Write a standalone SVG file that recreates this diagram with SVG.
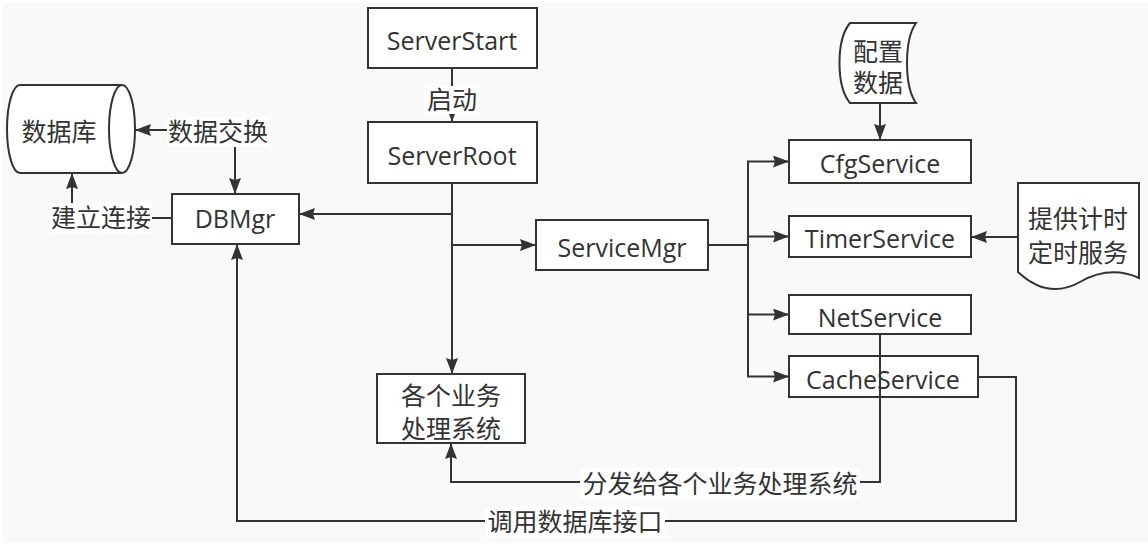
<svg xmlns="http://www.w3.org/2000/svg" width="1148" height="549" viewBox="0 0 1148 549">
<defs>
<style>
.bg{fill:#f9f9f9}
.node{fill:#ffffff;stroke:#333333;stroke-width:2}
.edge{fill:none;stroke:#333333;stroke-width:2}
.t{font-family:"Open Sans","Noto Sans CJK SC",sans-serif;font-size:25px;fill:#333333;text-anchor:middle}
.lbg{fill:#ffffff}
</style>
<marker id="arr" viewBox="0 0 16 12" refX="16" refY="6" markerWidth="16" markerHeight="12" markerUnits="userSpaceOnUse" orient="auto-start-reverse">
<path d="M0 0 L16 6 L0 12 L2 6 Z" fill="#333333"/>
</marker>
</defs>
<rect x="0" y="0" width="1148" height="549" fill="#ffffff"/>
<rect class="bg" x="3" y="3" width="1145" height="540"/>

<g id="connectors">
<path class="edge" d="M452 68 V122" marker-end="url(#arr)"/>
<path class="edge" d="M452 183 V374" marker-end="url(#arr)"/>
<path class="edge" d="M452 214 H299" marker-end="url(#arr)"/>
<path class="edge" d="M452 245 H536" marker-end="url(#arr)"/>
<path class="edge" d="M235 194 V130 H135" marker-start="url(#arr)" marker-end="url(#arr)"/>
<path class="edge" d="M172 218 H72 V173" marker-end="url(#arr)"/>
<path class="edge" d="M708 245 H748"/>
<path class="edge" d="M748 245 V161.5 H789" marker-end="url(#arr)"/>
<path class="edge" d="M748 245 V236.5 H789" marker-end="url(#arr)"/>
<path class="edge" d="M748 245 V314.5 H789" marker-end="url(#arr)"/>
<path class="edge" d="M748 245 V376.5 H789" marker-end="url(#arr)"/>
<path class="edge" d="M880 103 V140" marker-end="url(#arr)"/>
<path class="edge" d="M1018 237 H971" marker-end="url(#arr)"/>
<path class="edge" d="M978 377 H1016 V521 H237 V244" marker-end="url(#arr)"/>
</g>

<g id="labels">
<rect class="lbg" x="424" y="86" width="56" height="28"/>
<text class="t" x="452" y="109">启动</text>
<rect class="lbg" x="167" y="117" width="102" height="30"/>
<text class="t" x="218" y="141">数据交换</text>
<rect class="lbg" x="50" y="203" width="102" height="30"/>
<text class="t" x="101" y="227">建立连接</text>
<rect class="lbg" x="485" y="507" width="180" height="30"/>
<text class="t" x="575" y="531">调用数据库接口</text>
</g>

<g id="db">
<path class="node" d="M20 85 H122 A13 44 0 0 1 122 173 H20 A13 44 0 0 1 20 85 Z"/>
<path class="edge" d="M122 85 A13 44 0 0 0 122 173"/>
<text class="t" x="59" y="141">数据库</text>
</g>
<g id="serverstart">
<rect class="node" x="368" y="8" width="169" height="60"/>
<text class="t" x="452" y="50">ServerStart</text>
</g>
<g id="serverroot">
<rect class="node" x="368" y="122" width="169" height="61"/>
<text class="t" x="452" y="165">ServerRoot</text>
</g>
<g id="dbmgr">
<rect class="node" x="172" y="194" width="127" height="50"/>
<text class="t" x="235" y="228">DBMgr</text>
</g>
<g id="servicemgr">
<rect class="node" x="536" y="220" width="172" height="50"/>
<text class="t" x="622" y="257">ServiceMgr</text>
</g>
<g id="business">
<rect class="node" x="377" y="374" width="148" height="69"/>
<text class="t" x="451" y="405">各个业务</text>
<text class="t" x="451" y="438">处理系统</text>
</g>
<g id="cfgdata">
<path class="node" d="M850 23 H916 C904 40 904 86 916 103 H850 C836 86 836 40 850 23 Z"/>
<text class="t" x="878" y="61">配置</text>
<text class="t" x="878" y="92">数据</text>
</g>
<g id="cfgservice">
<rect class="node" x="789" y="140" width="182" height="43"/>
<text class="t" x="880" y="173">CfgService</text>
</g>
<g id="timerservice">
<rect class="node" x="789" y="216" width="182" height="41"/>
<text class="t" x="880" y="248">TimerService</text>
</g>
<g id="timerdoc">
<path class="node" d="M1018 183 H1139 V278 Q1110 265 1080 282 Q1048 300 1018 272 Z"/>
<text class="t" x="1078" y="228">提供计时</text>
<text class="t" x="1078" y="262">定时服务</text>
</g>
<g id="netservice">
<rect class="node" x="789" y="295" width="182" height="39"/>
<text class="t" x="880" y="327">NetService</text>
</g>
<g id="cacheservice">
<rect class="node" x="789" y="356" width="189" height="41"/>
<text class="t" x="883" y="389">CacheService</text>
</g>
<g id="dispatch">
<path class="edge" d="M880 334 V482 H451 V443" marker-end="url(#arr)"/>
<rect class="lbg" x="580" y="468" width="280" height="30"/>
<text class="t" x="720" y="493">分发给各个业务处理系统</text>
</g>
</svg>
